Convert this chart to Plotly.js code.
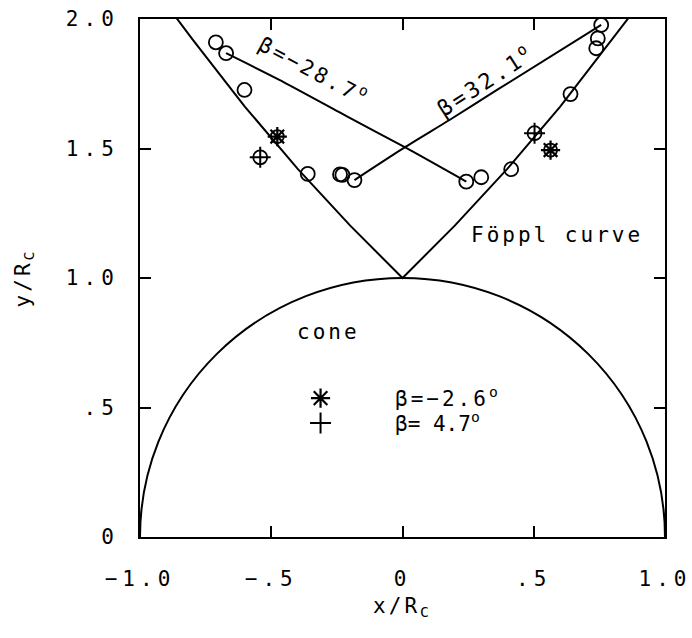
<!DOCTYPE html>
<html>
<head>
<meta charset="utf-8">
<script src="https://cdn.plot.ly/plotly-3.0.1.min.js"></script>
<style>
  html, body { margin: 0; padding: 0; background: #fff; }
  #plot { width: 692px; height: 638px; }
  .xtick text, .ytick text { letter-spacing: 5px; }
  .annotation-text, .legendtext, .g-xtitle text, .g-ytitle text { letter-spacing: 3px; }
</style>
</head>
<body>
<div id="plot"></div>
<script>
// Cone radius (normalised)
const coneRadius = 1.0;

// Foppl equilibrium curve
const foepplX = [-0.87, -0.8, -0.6, -0.4, -0.2, 0, 0.2, 0.4, 0.6, 0.8, 0.87];
const foepplY = [2.016, 1.921, 1.661, 1.422, 1.203, 1.0, 1.203, 1.422, 1.661, 1.921, 2.016];

// Vortex traces for beta = -28.7 deg and beta = 32.1 deg
const betaNegX = [-0.672, -0.469, -0.208, 0.014, 0.243];
const betaNegY = [1.868, 1.765, 1.622, 1.502, 1.372];
const betaPosX = [-0.183, 0.014, 0.179, 0.363, 0.757];
const betaPosY = [1.378, 1.508, 1.610, 1.728, 1.977];

// Measured vortex centres (open circles)
const circleX = [-0.711, -0.672, -0.602, -0.361, -0.238, -0.229, -0.183, 0.243, 0.300, 0.414, 0.640, 0.738, 0.744, 0.757];
const circleY = [1.910, 1.868, 1.726, 1.402, 1.400, 1.398, 1.378, 1.372, 1.389, 1.420, 1.710, 1.887, 1.925, 1.977];

// beta = -2.6 deg and beta = 4.7 deg
const starX = [-0.477, 0.564];
const starY = [1.546, 1.494];
const plusX = [-0.542, 0.503];
const plusY = [1.466, 1.559];

const xTickVals = [-1, -0.5, 0, 0.5, 1];
const xTickText = ['\u22121.0', '\u2212.5', '0', '.5', '1.0'];
const yTickVals = [0, 0.5, 1, 1.5, 2];
const yTickText = ['0', '.5', '1.0', '1.5', '2.0'];

const FONT = 'DejaVu Sans Mono, monospace';
const line = {color: '#000', width: 2};
const curve = {color: '#000', width: 2, shape: 'spline', smoothing: 0.6};

const traces = [
  {x: foepplX, y: foepplY, mode: 'lines', line: line, showlegend: false},
  {x: betaNegX, y: betaNegY, mode: 'lines', line: curve, showlegend: false},
  {x: betaPosX, y: betaPosY, mode: 'lines', line: curve, showlegend: false},
  {x: circleX, y: circleY, mode: 'markers', showlegend: false,
   marker: {symbol: 'circle-open', size: 14, color: '#000', line: {width: 1.8, color: '#000'}}},
  {x: starX, y: starY, mode: 'markers', showlegend: false,
   marker: {symbol: 'circle-open', size: 13, color: '#000', line: {width: 1.8, color: '#000'}}},
  {x: plusX, y: plusY, mode: 'markers', showlegend: false,
   marker: {symbol: 'circle-open', size: 14, color: '#000', line: {width: 1.8, color: '#000'}}},
  {x: starX, y: starY, mode: 'markers', name: '\u03b2=\u22122.6<sup>o</sup>', legend: 'legend',
   marker: {symbol: 'asterisk-open', size: 16, color: '#000', line: {width: 2.2, color: '#000'}}},
  {x: plusX, y: plusY, mode: 'markers', name: '\u03b2= 4.7<sup>o</sup>', legend: 'legend2',
   marker: {symbol: 'cross-thin-open', size: 15, color: '#000', line: {width: 2, color: '#000'}}}
];

const axisCommon = {
  showgrid: false, zeroline: false,
  showline: true, linecolor: '#000', linewidth: 2, mirror: 'ticks',
  ticks: 'inside', ticklen: 11, tickwidth: 2, tickcolor: '#000',
  tickfont: {family: FONT, size: 21, color: '#000'},
  tickmode: 'array'
};

const legendCommon = {
  xanchor: 'left', yanchor: 'top',
  bgcolor: 'rgba(0,0,0,0)', borderwidth: 0,
  font: {family: FONT, size: 21, color: '#000'},
  itemwidth: 139
};

const layout = {
  width: 692, height: 638,
  margin: {l: 140, r: 27, t: 19, b: 101},
  paper_bgcolor: '#fff', plot_bgcolor: '#fff',
  font: {family: FONT, color: '#000'},
  xaxis: Object.assign({}, axisCommon, {
    range: [-1, 1], tickvals: xTickVals, ticktext: xTickText,
    ticklabelstandoff: 22,
    title: {text: 'x/R<sub>C</sub>', font: {family: FONT, size: 21, color: '#000'}, standoff: 8}
  }),
  yaxis: Object.assign({}, axisCommon, {
    range: [0, 2], tickvals: yTickVals, ticktext: yTickText,
    ticklabelstandoff: 15,
    title: {text: 'y/R<sub>C</sub>', font: {family: FONT, size: 21, color: '#000'}, standoff: 30}
  }),
  showlegend: true,
  legend: Object.assign({}, legendCommon, {x: 0.202, y: 0.307}),
  legend2: Object.assign({}, legendCommon, {x: 0.202, y: 0.259}),
  shapes: [{
    type: 'circle', xref: 'x', yref: 'y', layer: 'below',
    x0: -coneRadius, x1: coneRadius, y0: -coneRadius, y1: coneRadius,
    line: {color: '#000', width: 2}
  }],
  annotations: [
    {x: -0.335, y: 1.805, text: '\u03b2=\u221228.7<sup>o</sup>', textangle: 28, showarrow: false,
     font: {family: FONT, size: 21, color: '#000'}},
    {x: 0.313, y: 1.764, text: '\u03b2=32.1<sup>o</sup>', textangle: -33, showarrow: false,
     font: {family: FONT, size: 22, color: '#000'}},
    {x: 0.59, y: 1.166, text: 'F\u00f6ppl curve', showarrow: false,
     font: {family: FONT, size: 21, color: '#000'}},
    {x: -0.282, y: 0.792, text: 'cone', showarrow: false,
     font: {family: FONT, size: 21, color: '#000'}}
  ]
};

Plotly.newPlot('plot', traces, layout, {staticPlot: true});
</script>
</body>
</html>
